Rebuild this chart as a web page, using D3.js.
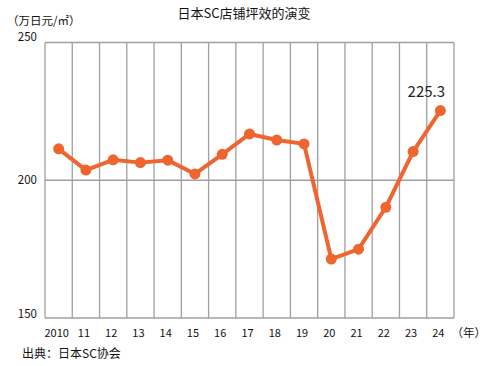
<!DOCTYPE html>
<html><head><meta charset="utf-8">
<script src="https://cdn.jsdelivr.net/npm/d3@7"></script>
<style>body{margin:0;background:#fff}svg{display:block}text{font-family:"Noto Sans CJK SC","DejaVu Sans",sans-serif}</style>
</head><body><svg id="c" width="488" height="366"></svg>
<script>
const years = ["2010","11","12","13","14","15","16","17","18","19","20","21","22","23","24"];
const values = [211.4,203.7,207.4,206.4,207.3,202.3,209.4,216.8,214.6,213.2,171.4,175.0,190.2,210.4,225.3];
const yTicks = [150,200,250];
const title = "日本SC店铺坪效的演变";
const unitLabel = "（万日元/㎡）";
const yearLabel = "（年）";
const source = "出典：日本SC协会";
const lastLabel = "225.3";

const svg = d3.select("#c");
const L=45, R=454, T=42.5, B=318;
const x = d3.scaleBand().domain(years).range([L,R]).padding(0);
const y = d3.scaleLinear().domain([150,250]).range([B,T]);
const gridColor="#a0a0a0";

const bounds = years.map(d=>x(d)).concat([R]);
svg.append("g").selectAll("line").data(bounds).join("line")
  .attr("x1",d=>d).attr("x2",d=>d).attr("y1",T).attr("y2",B)
  .attr("stroke",gridColor).attr("stroke-width",1.3);
svg.append("g").selectAll("line").data(yTicks).join("line")
  .attr("x1",L).attr("x2",R).attr("y1",d=>y(d)).attr("y2",d=>y(d))
  .attr("stroke",gridColor).attr("stroke-width",1.5);

const yOff = {250:-6,200:0,150:-4};
svg.append("g").selectAll("text").data(yTicks).join("text")
  .attr("x",37).attr("y",d=>y(d)+yOff[d]).attr("dy","0.35em")
  .attr("text-anchor","end").attr("font-size",11.5).attr("fill","#111").text(d=>d);

svg.append("g").selectAll("text").data(years).join("text")
  .attr("x",d=>x(d)+x.bandwidth()/2-2).attr("y",333).attr("dy","0.35em")
  .attr("text-anchor","middle").attr("font-size",11).attr("fill","#111").text(d=>d);
svg.append("text").attr("x",486).attr("y",333).attr("dy","0.35em").attr("text-anchor","end")
  .attr("font-size",11.5).attr("fill","#111").text(yearLabel);

const color="#ef6530";
const line = d3.line().x((d,i)=>x(years[i])+x.bandwidth()/2).y(d=>y(d));
svg.append("path").datum(values).attr("d",line).attr("fill","none")
  .attr("stroke",color).attr("stroke-width",4).attr("stroke-linejoin","round");
svg.append("g").selectAll("circle").data(values).join("circle")
  .attr("cx",(d,i)=>x(years[i])+x.bandwidth()/2).attr("cy",d=>y(d)).attr("r",5.5).attr("fill",color);

svg.append("text").attr("x",x(years[14])+x.bandwidth()/2-14).attr("y",y(values[14])-19)
  .attr("dy","0.35em").attr("text-anchor","middle").attr("font-size",15).attr("fill","#222").text(lastLabel);

svg.append("text").attr("x",244).attr("y",13).attr("dy","0.35em").attr("text-anchor","middle")
  .attr("font-size",13).attr("fill","#111").text(title);
svg.append("text").attr("x",7).attr("y",21).attr("dy","0.35em")
  .attr("font-size",11.5).attr("fill","#111").text(unitLabel);
svg.append("text").attr("x",22).attr("y",354).attr("dy","0.35em")
  .attr("font-size",12).attr("fill","#111").text(source);
</script></body></html>
